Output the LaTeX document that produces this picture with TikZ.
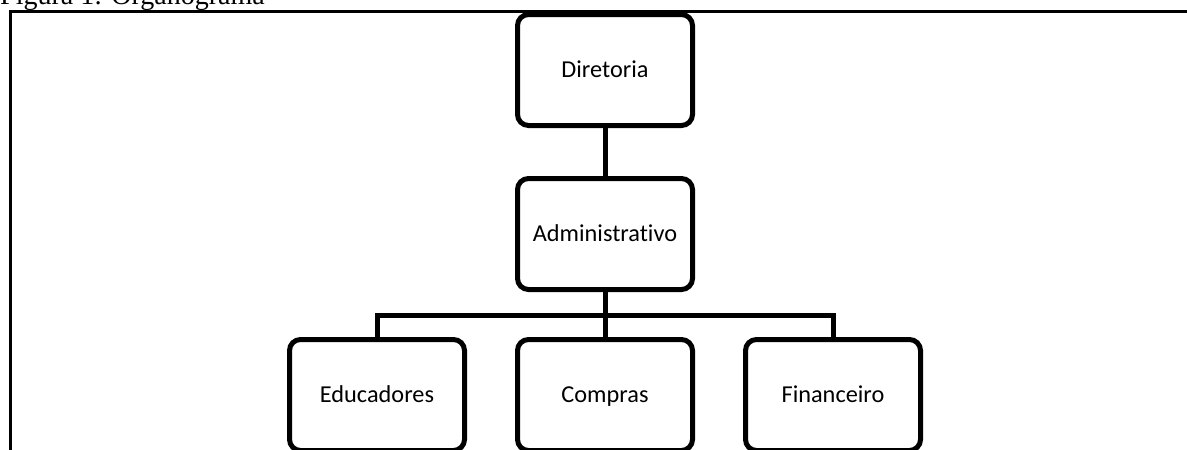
\documentclass[tikz,border=0pt]{standalone}
\usepackage{fontspec}
\setmainfont{Liberation Serif}
\newfontfamily\carlito[Ligatures=NoCommon]{Carlito}
\begin{document}
\begin{tikzpicture}[x=1pt,y=-1pt,
  orgbox/.style={draw=black, line width=5pt, rounded corners=11pt, fill=white,
    minimum width=175pt, minimum height=111pt, inner sep=0pt,
    text height=16pt, text depth=1pt,
    font=\carlito\fontsize{24.3}{29}\selectfont},
  link/.style={draw=black, line width=5pt, line join=miter},
  frame/.style={draw=black, line width=3pt}]
\useasboundingbox (0,0) rectangle (1187,450);
\clip (0,0) rectangle (1187,450);
\node[anchor=base west, inner sep=0pt, font=\fontsize{28}{33}\selectfont] (title) at (0,4) {Figura 1: Organograma};
\coordinate (fa) at (10,470);
\coordinate (fb) at (10,11);
\coordinate (fc) at (1200,11);
\draw[frame] (fa) -- (fb) -- (fc);
\node[orgbox] (dir) at (605,70) {Diretoria};
\node[orgbox] (adm) at (605,234) {Administrativo};
\node[orgbox] (edu) at (377,395) {Educadores};
\node[orgbox] (com) at (605,395) {Compras};
\node[orgbox] (fin) at (833,395) {Financeiro};
\coordinate (bus) at (605,315);
\draw[link] (dir.south) -- (adm.north);
\draw[link] (adm.south) -- (com.north);
\draw[link] (edu.north) |- (bus) -| (fin.north);
\end{tikzpicture}
\end{document}
